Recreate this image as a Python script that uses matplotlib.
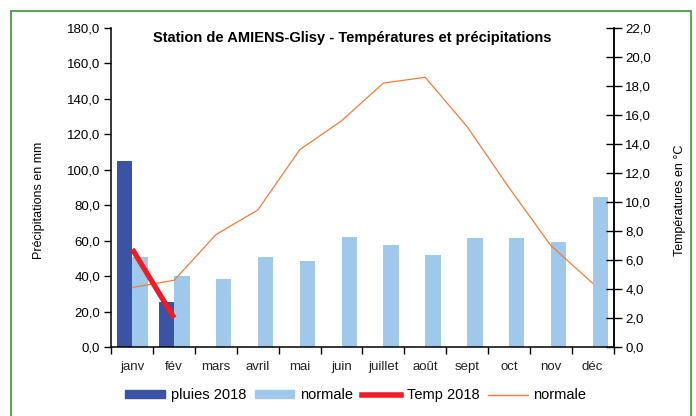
import numpy as np
import matplotlib
matplotlib.use('Agg')
import matplotlib.pyplot as plt
from matplotlib.patches import Rectangle, Patch
from matplotlib.lines import Line2D
from matplotlib.ticker import FuncFormatter, MultipleLocator

plt.rcParams['font.family'] = ['Liberation Sans', 'DejaVu Sans']

# Data
months = ['janv', 'fév', 'mars', 'avril', 'mai', 'juin', 'juillet', 'août',
          'sept', 'oct', 'nov', 'déc']
pluies_2018 = [104.7, 25.2]
pluies_normale = [51.0, 40.2, 38.2, 51.0, 48.4, 61.9, 57.3, 51.7, 61.3, 61.3, 59.1, 84.9]
temp_2018 = [6.75, 2.0]
temp_normale = [4.1, 4.6, 7.75, 9.45, 13.6, 15.6, 18.2, 18.6, 15.2, 11.0, 7.0, 4.4]

dark_blue = '#3a53a4'
light_blue = '#a0c8ea'
red = '#ee1c25'
orange = '#f47b3a'

fig = plt.figure(figsize=(6.96, 4.16), dpi=100)
ax = fig.add_axes([0.160, 0.166, 0.7215, 0.7667])
ax2 = ax.twinx()

x = np.arange(len(months))
w = 0.37
ax.bar(x[:len(pluies_2018)] - w / 2, pluies_2018, w, color=dark_blue)
ax.bar(x + w / 2, pluies_normale, w, color=light_blue)

ax2.plot(x, temp_normale, color=orange, lw=0.9)
ax2.plot(x[:len(temp_2018)], temp_2018, color=red, lw=3.8, solid_capstyle='butt')

ax.set_xlim(-0.5, 11.5)
ax.set_ylim(0, 180)
ax2.set_ylim(0, 22)
ax.yaxis.set_major_locator(MultipleLocator(20))
ax2.yaxis.set_major_locator(MultipleLocator(2))
fmt = FuncFormatter(lambda v, p: f'{v:.1f}'.replace('.', ','))
ax.yaxis.set_major_formatter(fmt)
ax2.yaxis.set_major_formatter(fmt)

ax.set_xticks(x)
ax.set_xticklabels(months)
ax.set_xticks(np.arange(-0.5, 12, 1), minor=True)
ax.tick_params(axis='x', which='major', length=0, pad=10, labelsize=9.5, colors='#222222')
ax.tick_params(axis='x', which='minor', length=5, width=1, direction='out')
ax.tick_params(axis='y', length=5, width=1, direction='out', pad=3, labelsize=9.5)
ax2.tick_params(axis='y', length=11, width=1, direction='inout', pad=3, labelsize=9.5)

for a in (ax, ax2):
    a.spines['top'].set_visible(False)
    for s in a.spines.values():
        s.set_linewidth(1.1)
ax2.spines['left'].set_visible(False)
ax2.spines['bottom'].set_visible(False)

ax.set_ylabel('Précipitations en mm', fontsize=9)
ax.yaxis.set_label_coords(-0.133, 0.46)
ax2.set_ylabel('Températures en °C', fontsize=9)
ax2.yaxis.set_label_coords(1.12, 0.46)

ax.text(0.48, 0.99, 'Station de AMIENS-Glisy - Températures et précipitations',
        transform=ax.transAxes, ha='center', va='top', fontsize=10.5, fontweight='bold')

handles = [Patch(color=dark_blue), Patch(color=light_blue),
           Line2D([], [], color=red, lw=4), Line2D([], [], color=orange, lw=1)]
labels = ['pluies 2018', 'normale', 'Temp 2018', 'normale']
fig.legend(handles, labels, loc='center', bbox_to_anchor=(356 / 696, 0.05), ncol=4,
           frameon=False, fontsize=10.5, handlelength=2.7, handleheight=0.5,
           handletextpad=0.4, columnspacing=0.6)

fig.patches.append(Rectangle((11 / 696, -0.05), 680 / 696, 1.05 - 10.5 / 416,
                             transform=fig.transFigure, fill=False,
                             edgecolor='#43a047', lw=1.3))

fig.savefig('out.png', dpi=100)
